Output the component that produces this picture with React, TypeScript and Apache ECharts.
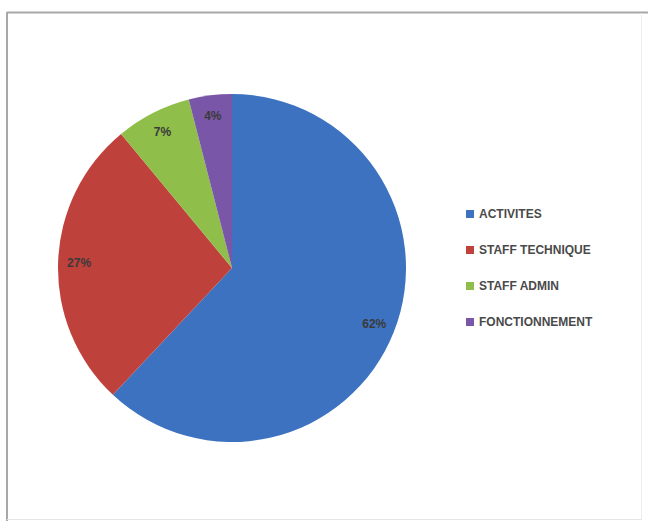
import React, { useEffect, useRef } from "react";
import * as echarts from "echarts";

const categories = ["ACTIVITES", "STAFF TECHNIQUE", "STAFF ADMIN", "FONCTIONNEMENT"];
const values = [62, 27, 7, 4];
const colors = ["#3D72C0", "#BF413B", "#8FBF4A", "#7A56A8"];

export default function App() {
  const ref = useRef<HTMLDivElement>(null);
  useEffect(() => {
    if (!ref.current) return;
    const chart = echarts.init(ref.current, null, { renderer: "svg" });
    const data = categories.map((name, i) => ({ name, value: values[i] }));
    chart.setOption({
      animation: false,
      backgroundColor: "#ffffff",
      color: colors,
      graphic: [
        { type: "line", shape: { x1: 7, y1: 12.5, x2: 648, y2: 12.5 }, style: { stroke: "#a8a8a8", lineWidth: 2 } },
        { type: "line", shape: { x1: 7, y1: 12, x2: 7, y2: 521 }, style: { stroke: "#a8a8a8", lineWidth: 2 } },
        { type: "line", shape: { x1: 641.5, y1: 13, x2: 641.5, y2: 519 }, style: { stroke: "#eeeeee", lineWidth: 1 } },
        { type: "line", shape: { x1: 7, y1: 519.5, x2: 642, y2: 519.5 }, style: { stroke: "#e6e6e6", lineWidth: 1 } },
      ],
      legend: {
        orient: "vertical",
        left: 461,
        top: 203,
        itemWidth: 8,
        itemHeight: 8,
        itemGap: 24,
        icon: "rect",
        textStyle: { fontSize: 12, fontWeight: "bold", color: "#4a4a4a", fontFamily: "Liberation Sans, sans-serif" },
        data: categories,
      },
      series: [
        {
          type: "pie",
          center: [232, 268],
          radius: [0, 174],
          startAngle: 90,
          clockwise: true,
          label: { show: false },
          labelLine: { show: false },
          itemStyle: { borderWidth: 0 },
          emphasis: { disabled: true },
          data,
        },
        {
          type: "pie",
          center: [232, 268],
          radius: [126, 174],
          startAngle: 90,
          clockwise: true,
          silent: true,
          itemStyle: { color: "transparent", borderWidth: 0 },
          label: {
            show: true,
            position: "inside",
            formatter: "{c}%",
            fontSize: 12,
            fontWeight: "bold",
            color: "#3a3a3a",
            fontFamily: "Liberation Sans, sans-serif",
          },
          labelLine: { show: false },
          emphasis: { disabled: true },
          data,
        },
      ],
    });
    return () => chart.dispose();
  }, []);
  return <div ref={ref} style={{ position: "fixed", left: 0, top: 0, width: 648, height: 521 }} />;
}
